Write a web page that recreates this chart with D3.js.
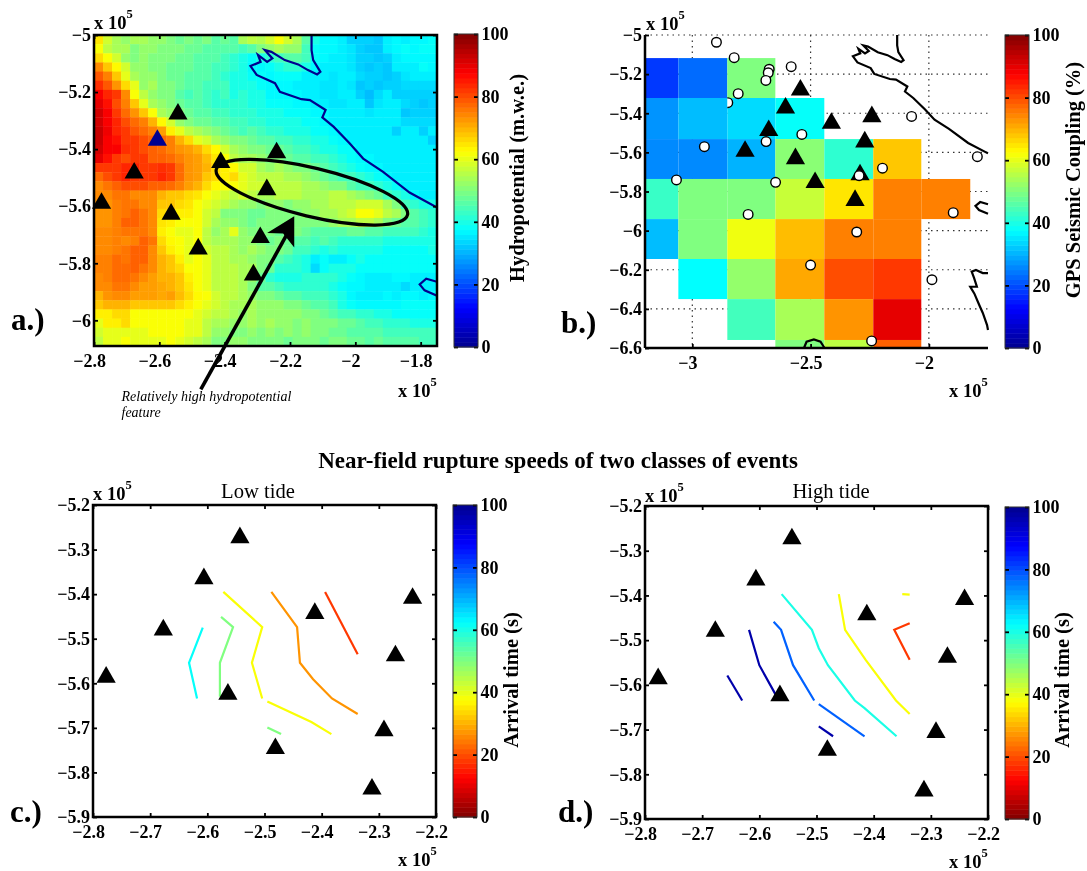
<!DOCTYPE html>
<html>
<head>
<meta charset="utf-8">
<script src="https://cdn.jsdelivr.net/npm/d3@7"></script>
<style>
  body { margin: 0; background: #fff; }
  text { font-family: "Liberation Serif", serif; fill: #000; }
  .tick line { stroke: #000; stroke-width: 1.8; }
  .tick text { font-size: 18px; font-weight: bold; }
</style>
</head>
<body>
<div id="chart"></div>
<script>
// stations, x and y in units of 10^5
const stationX = [-2.777, -2.677, -2.606, -2.543, -2.564, -2.481, -2.412, -2.312, -2.291, -2.271, -2.241];
const stationY = [-5.58, -5.474, -5.359, -5.267, -5.618, -5.74, -5.437, -5.831, -5.7, -5.532, -5.403];

// hydropotential grid, top row first
const hydroRows = [
  [65,58,54,52,54,54,52,52,50,48,50,48,50,46,48,46,54,56,55,58,62,58,54,46,40,37,37,36,33,33,33,32,36,37,36,37,37,38],
  [62,56,54,54,50,52,52,50,50,50,48,48,46,46,46,46,44,46,50,52,54,52,52,44,38,37,37,36,35,33,32,32,36,37,38,37,38,38],
  [66,62,58,52,50,52,50,50,50,48,48,46,46,46,44,42,40,38,40,42,44,46,46,44,38,37,36,36,35,33,33,32,33,36,37,37,37,37],
  [74,68,63,58,52,52,50,50,48,48,48,46,46,44,44,42,40,37,37,38,40,42,42,40,37,36,36,36,35,33,32,33,32,36,36,36,38,37],
  [79,75,68,60,54,52,52,50,48,48,46,46,46,44,42,40,40,38,38,37,38,38,38,36,36,36,35,36,36,34,33,33,32,33,35,36,36,36],
  [83,79,73,66,60,52,54,50,50,48,46,46,44,44,44,40,40,40,38,37,37,37,36,36,36,35,35,36,35,32,33,32,33,33,34,34,34,34],
  [88,84,82,74,62,56,52,50,50,46,44,46,44,42,44,40,42,40,40,37,37,37,37,36,36,35,35,36,36,33,31,34,36,33,33,33,33,33],
  [90,86,80,75,68,60,54,52,50,48,46,46,44,42,42,42,42,40,40,38,38,38,37,37,36,36,35,35,36,36,32,35,36,36,34,33,32,33],
  [92,88,82,77,73,68,62,54,52,50,48,46,46,44,44,42,42,42,40,40,40,38,38,38,37,37,36,36,36,36,35,36,36,36,32,33,33,33],
  [92,88,84,80,77,75,70,63,58,52,50,48,48,46,46,44,44,42,42,40,40,40,40,38,38,37,36,36,36,36,36,36,36,36,34,34,34,34],
  [93,89,84,82,79,77,75,72,64,60,56,54,52,50,48,46,44,46,44,42,42,40,40,40,38,38,37,36,36,36,36,36,36,33,36,36,33,36],
  [93,88,86,82,82,80,78,77,75,70,66,60,58,54,52,50,50,48,46,46,44,44,42,42,40,40,38,37,36,36,36,36,36,36,36,36,36,33],
  [92,88,88,83,82,80,78,77,75,73,72,70,66,63,58,54,52,50,50,48,48,46,44,44,42,40,40,38,38,36,36,36,36,36,36,36,36,36],
  [90,86,82,80,82,82,78,78,77,75,73,72,69,65,62,56,54,54,52,50,50,48,46,46,44,44,42,40,38,37,37,36,36,36,36,36,36,36],
  [82,82,82,84,84,82,82,83,82,77,73,72,70,66,64,63,58,58,54,52,54,52,50,50,48,46,44,42,40,38,37,37,36,36,36,36,36,36],
  [77,80,82,84,82,82,82,84,82,77,73,72,68,66,64,66,60,58,56,56,56,54,54,52,50,48,46,44,44,42,40,38,37,36,36,36,36,36],
  [74,76,78,80,80,80,78,78,77,75,72,70,66,63,62,62,60,58,58,56,56,56,56,54,54,52,50,50,46,44,44,42,40,38,36,36,36,36],
  [74,74,76,76,74,74,74,70,68,68,66,65,62,60,58,56,58,56,54,54,56,56,56,54,54,54,56,56,54,52,50,48,44,42,40,37,36,36],
  [73,73,75,76,76,74,74,68,68,66,65,62,60,58,56,54,52,52,50,52,52,50,52,52,54,54,56,56,56,58,58,58,54,50,44,42,40,40],
  [73,73,75,76,78,76,74,66,66,64,64,62,58,56,50,50,50,48,48,50,50,50,50,52,52,54,54,56,58,62,62,60,56,54,50,46,44,42],
  [73,73,75,78,78,76,74,65,64,62,62,62,58,54,52,52,50,48,50,50,50,50,50,50,50,50,52,54,54,56,56,54,50,48,46,46,44,42],
  [74,74,75,76,76,76,74,64,62,60,60,62,56,52,54,60,52,50,50,50,48,50,50,48,46,46,46,46,48,48,46,46,44,44,44,44,42,40],
  [74,74,75,74,75,78,76,66,63,62,60,62,56,54,54,54,52,52,50,48,50,48,46,46,44,46,44,42,42,42,42,42,40,40,40,40,40,40],
  [74,74,75,76,78,78,74,68,64,62,60,62,58,56,56,54,52,54,52,50,50,48,44,44,42,40,42,40,40,40,40,40,38,38,38,38,38,40],
  [75,75,77,76,78,78,74,70,68,64,60,62,60,56,56,54,54,52,50,50,46,44,42,40,36,38,36,36,38,40,38,38,38,38,38,38,38,38],
  [75,75,77,77,78,76,74,70,68,66,62,62,60,56,56,56,54,54,50,48,42,42,42,40,34,38,40,40,40,38,38,38,38,38,38,38,38,38],
  [74,75,77,77,76,74,72,70,70,68,64,62,60,56,56,56,54,52,48,42,40,40,40,42,42,42,42,40,38,37,36,36,36,37,37,36,36,36],
  [74,74,76,76,74,72,72,71,70,68,65,62,60,56,56,56,54,50,46,46,44,42,42,42,42,42,40,38,37,37,36,36,36,36,34,36,36,36],
  [70,73,74,74,72,72,72,71,72,69,66,63,62,58,56,56,54,52,50,50,48,46,46,44,44,44,42,40,37,36,36,36,37,36,37,37,36,37],
  [68,70,70,70,68,68,68,68,68,66,64,62,60,58,56,54,54,54,52,52,52,50,50,48,46,46,44,40,38,37,37,37,37,37,38,38,38,38],
  [64,64,66,66,62,62,62,62,62,62,62,60,58,56,56,54,52,54,52,52,52,52,52,50,50,48,46,44,44,42,42,40,40,38,38,38,38,38],
  [60,64,64,66,62,62,62,62,62,62,60,60,56,54,54,52,52,54,52,54,52,52,50,52,50,50,50,48,48,46,44,44,42,42,42,40,40,40],
  [58,60,60,60,60,60,62,62,62,62,60,60,56,52,52,50,50,52,50,52,50,52,50,52,50,50,48,48,46,46,46,46,44,44,44,44,44,44],
  [56,60,60,62,60,60,60,60,62,60,58,56,54,50,50,52,52,50,50,50,50,48,50,50,50,48,50,50,48,48,46,48,46,46,46,46,44,44]
];

// GPS coupling blocks
const couplingXEdges = [-3.2, -3.059, -2.852, -2.649, -2.442, -2.235, -2.032, -1.825];
const couplingYEdges = [-5.118, -5.322, -5.532, -5.736, -5.941, -6.145, -6.35, -6.559, -6.6];
const couplingRows = [
  [18, 23, 50, null, null, null, null],
  [27, 31, 34, 38, null, null, null],
  [26, 26, 30, 51, 42, 68, null],
  [43, 50, 50, 57, 65, 75, 75],
  [31, 50, 61, 69, 75, 75, null],
  [null, 37.5, 52, 71, 80, 82, null],
  [null, null, 44, 54, 73, 90, null],
  [null, null, null, 50, 56, 78, null]
];

const gpsX = [-2.898, -2.823, -2.675, -2.679, -2.689, -2.582, -2.806, -2.949, -2.688, -2.537, -3.067, -2.648, -2.764, -2.295, -2.196, -2.305, -2.5, -2.242, -1.897, -1.987, -2.073, -1.795];
const gpsY = [-5.037, -5.116, -5.175, -5.193, -5.232, -5.162, -5.3, -5.571, -5.545, -5.508, -5.741, -5.753, -5.917, -5.719, -5.681, -6.007, -6.176, -6.564, -5.908, -6.251, -5.416, -5.622];
// this one sits half under the blue block
const gpsCutX = -2.85, gpsCutY = -5.346;

// coastlines [x, y]
const coastMain = [[-2.134,-5.0],[-2.134,-5.053],[-2.129,-5.088],[-2.107,-5.129],[-2.117,-5.138],[-2.145,-5.123],[-2.175,-5.103],[-2.216,-5.088],[-2.257,-5.059],[-2.277,-5.053],[-2.254,-5.082],[-2.27,-5.094],[-2.298,-5.07],[-2.29,-5.094],[-2.321,-5.109],[-2.302,-5.14],[-2.246,-5.169],[-2.231,-5.199],[-2.165,-5.225],[-2.139,-5.228],[-2.091,-5.263],[-2.101,-5.289],[-2.066,-5.322],[-2.017,-5.38],[-1.976,-5.433],[-1.915,-5.48],[-1.834,-5.552],[-1.75,-5.605]];
const coastHook = [[-1.75,-5.865],[-1.783,-5.854],[-1.803,-5.874],[-1.788,-5.895],[-1.75,-5.914]];
const coastSouth = [[-1.75,-6.217],[-1.772,-6.217],[-1.801,-6.201],[-1.819,-6.21],[-1.809,-6.242],[-1.797,-6.287],[-1.825,-6.287],[-1.808,-6.321],[-1.787,-6.38],[-1.772,-6.421],[-1.754,-6.483],[-1.75,-6.508]];
const coastArc = [[-2.528,-6.6],[-2.517,-6.568],[-2.486,-6.556],[-2.458,-6.568],[-2.441,-6.6]];

// rupture front contours
const lowTide = [
  {level: 62, pts: [[-2.608,-5.475],[-2.632,-5.554],[-2.618,-5.634]]},
  {level: 50, pts: [[-2.576,-5.451],[-2.555,-5.474],[-2.578,-5.554],[-2.578,-5.63]]},
  {level: 50, pts: [[-2.495,-5.699],[-2.471,-5.714]]},
  {level: 38, pts: [[-2.572,-5.395],[-2.504,-5.474],[-2.522,-5.554],[-2.504,-5.634]]},
  {level: 38, pts: [[-2.495,-5.641],[-2.418,-5.687],[-2.383,-5.714]]},
  {level: 27, pts: [[-2.488,-5.395],[-2.443,-5.474],[-2.438,-5.554],[-2.415,-5.591],[-2.382,-5.634],[-2.337,-5.669]]},
  {level: 18, pts: [[-2.394,-5.395],[-2.337,-5.535]]}
];
const highTide = [
  {level: 97, pts: [[-2.618,-5.477],[-2.6,-5.556],[-2.571,-5.623]]},
  {level: 97, pts: [[-2.656,-5.579],[-2.63,-5.635]]},
  {level: 97, pts: [[-2.496,-5.693],[-2.471,-5.715]]},
  {level: 78, pts: [[-2.575,-5.459],[-2.562,-5.477],[-2.541,-5.556],[-2.504,-5.635]]},
  {level: 78, pts: [[-2.496,-5.643],[-2.416,-5.715]]},
  {level: 60, pts: [[-2.561,-5.397],[-2.508,-5.477],[-2.496,-5.518],[-2.48,-5.556],[-2.433,-5.635],[-2.416,-5.652],[-2.36,-5.715]]},
  {level: 38, pts: [[-2.461,-5.397],[-2.45,-5.477],[-2.414,-5.544],[-2.361,-5.635],[-2.337,-5.665]]},
  {level: 38, pts: [[-2.35,-5.397],[-2.337,-5.398]]},
  {level: 18, pts: [[-2.337,-5.462],[-2.364,-5.477],[-2.337,-5.544]]}
];

const hydroXTicks = [-2.8, -2.6, -2.4, -2.2, -2, -1.8];
const hydroYTicks = [-5, -5.2, -5.4, -5.6, -5.8, -6];
const couplingXTicks = [-3, -2.5, -2];
const couplingYTicks = [-5, -5.2, -5.4, -5.6, -5.8, -6, -6.2, -6.4, -6.6];
const tideXTicks = [-2.8, -2.7, -2.6, -2.5, -2.4, -2.3, -2.2];
const tideYTicks = [-5.2, -5.3, -5.4, -5.5, -5.6, -5.7, -5.8, -5.9];
const colorTicks = [0, 20, 40, 60, 80, 100];

const width = 1087;
const height = 871;

const jet = d3.scaleLinear()
  .domain([0, 12.5, 37.5, 62.5, 87.5, 100])
  .range(['#00008f', '#0000ff', '#00ffff', '#ffff00', '#ff0000', '#800000']);
const jetReversed = v => jet(100 - v);

const svg = d3.select('#chart')
  .append('svg')
  .attr('width', width)
  .attr('height', height)
  .style('display', 'block')
  .style('filter', 'blur(0.4px)');

const lineOf = (x, y) => d3.line().x(d => x(d[0])).y(d => y(d[1]));

const makeScales = (box, xDomain, yDomain) => ({
  x: d3.scaleLinear().domain(xDomain).range([box.left, box.right]),
  y: d3.scaleLinear().domain(yDomain).range([box.top, box.bottom])
});

const drawAxes = (box, s, xTicks, yTicks, boxed) => {
  const num = d3.format('');
  const bottom = svg.append('g')
    .attr('transform', `translate(0,${box.bottom})`)
    .call(d3.axisBottom(s.x).tickValues(xTicks).tickSize(-4).tickPadding(8).tickFormat(num));
  bottom.selectAll('.tick text').attr('dx', -5);
  const left = svg.append('g')
    .attr('transform', `translate(${box.left},0)`)
    .call(d3.axisLeft(s.y).tickValues(yTicks).tickSize(-4).tickPadding(3).tickFormat(num));
  left.selectAll('.domain').remove();
  bottom.selectAll('.domain').remove();

  if (boxed) {
    svg.append('g').attr('transform', `translate(0,${box.top})`)
      .call(d3.axisTop(s.x).tickValues(xTicks).tickSize(-4).tickFormat(''))
      .select('.domain').remove();
    svg.append('g').attr('transform', `translate(${box.right},0)`)
      .call(d3.axisRight(s.y).tickValues(yTicks).tickSize(-4).tickFormat(''))
      .select('.domain').remove();
    svg.append('rect')
      .attr('x', box.left).attr('y', box.top)
      .attr('width', box.right - box.left).attr('height', box.bottom - box.top)
      .attr('fill', 'none').attr('stroke', '#000').attr('stroke-width', 2.5);
  } else {
    svg.append('line').attr('x1', box.left).attr('x2', box.left).attr('y1', box.top).attr('y2', box.bottom)
      .attr('stroke', '#000').attr('stroke-width', 2.5);
    svg.append('line').attr('x1', box.left).attr('x2', box.right).attr('y1', box.bottom).attr('y2', box.bottom)
      .attr('stroke', '#000').attr('stroke-width', 2.5);
  }
};

// "x 10^5" note, used at both ends of every panel
const expNote = (x, y) => {
  const t = svg.append('text').attr('x', x).attr('y', y).attr('font-size', 18.5).attr('font-weight', 'bold');
  t.append('tspan').text('x 10');
  t.append('tspan').attr('dy', -11).attr('font-size', 12.5).text('5');
};

const drawStations = (s, blueIndex) => {
  const tri = d3.symbol(d3.symbolTriangle).size(160);
  svg.append('g').selectAll('path')
    .data(stationX)
    .enter().append('path')
    .attr('d', tri)
    .attr('fill', (d, i) => i === blueIndex ? '#000090' : '#000')
    .attr('transform', (d, i) => `translate(${s.x(d)},${s.y(stationY[i]) + 2.8})`);
};

const drawColorbar = (left, top, bottom, flip, label, labelX, labelY) => {
  const barWidth = 24;
  const y = d3.scaleLinear().domain([0, 100]).range([bottom, top]);
  const steps = d3.range(64);
  const color = flip ? jetReversed : jet;
  svg.append('g').selectAll('rect')
    .data(steps)
    .enter().append('rect')
    .attr('x', left)
    .attr('width', barWidth)
    .attr('y', d => y((d + 1) * 100 / 64))
    .attr('height', (bottom - top) / 64 + 0.5)
    .attr('fill', d => color((d + 0.5) * 100 / 64));
  const ax = svg.append('g').attr('transform', `translate(${left + barWidth},0)`)
    .call(d3.axisRight(y).tickValues(colorTicks).tickSize(-4).tickPadding(3.5));
  ax.selectAll('.domain').remove();
  ax.selectAll('.tick line').attr('stroke-width', 1);
  svg.append('g').attr('transform', `translate(${left},0)`)
    .call(d3.axisLeft(y).tickValues(colorTicks).tickSize(-4).tickFormat(''))
    .call(g => g.select('.domain').remove())
    .selectAll('.tick line').attr('stroke-width', 1);
  svg.append('rect').attr('x', left).attr('y', top).attr('width', barWidth).attr('height', bottom - top)
    .attr('fill', 'none').attr('stroke', '#333').attr('stroke-width', 1);
  svg.append('text')
    .attr('transform', `translate(${labelX},${labelY}) rotate(-90)`)
    .attr('text-anchor', 'middle')
    .attr('font-size', 20.5).attr('font-weight', 'bold')
    .text(label);
};

const panelLabel = (txt, x, y) => svg.append('text').attr('x', x).attr('y', y)
  .attr('font-size', 31).attr('font-weight', 'bold').text(txt);

// Panel a
const boxA = {left: 94, right: 437, top: 35, bottom: 346};
const a = makeScales(boxA, [-2.8, -1.75], [-5, -6.09]);
const colBand = d3.scaleBand().domain(d3.range(hydroRows[0].length)).range([boxA.left, boxA.right]);
const rowBand = d3.scaleBand().domain(d3.range(hydroRows.length)).range([boxA.top, boxA.bottom]);

svg.append('g').selectAll('g')
  .data(hydroRows)
  .enter().append('g')
  .attr('transform', (d, i) => `translate(0,${rowBand(i)})`)
  .selectAll('rect')
  .data(d => d)
  .enter().append('rect')
  .attr('x', (d, i) => colBand(i))
  .attr('width', colBand.bandwidth() + 0.4)
  .attr('height', rowBand.bandwidth() + 0.4)
  .attr('fill', d => jet(d));

svg.append('defs').append('clipPath').attr('id', 'clipA').append('rect')
  .attr('x', boxA.left).attr('y', boxA.top)
  .attr('width', boxA.right - boxA.left).attr('height', boxA.bottom - boxA.top);

[coastMain, coastHook].forEach(c => svg.append('path')
  .attr('d', lineOf(a.x, a.y)(c))
  .attr('clip-path', 'url(#clipA)')
  .attr('fill', 'none').attr('stroke', '#00008f').attr('stroke-width', 2.2));

drawStations(a, 2);

// high hydropotential ellipse
const ellipseX = -2.133, ellipseY = -5.551;
svg.append('ellipse')
  .attr('transform', `translate(${a.x(ellipseX)},${a.y(ellipseY)}) rotate(13.4)`)
  .attr('rx', 98.3).attr('ry', 24.3)
  .attr('fill', 'none').attr('stroke', '#000').attr('stroke-width', 3.2);

drawAxes(boxA, a, hydroXTicks, hydroYTicks, true);

// arrow to the feature, runs out of the axes
const arrowTail = [-2.473, -6.242], arrowTip = [-2.187, -5.635];
const arrowBarbs = [[-2.27, -5.694], [-2.221, -5.696], [-2.187, -5.745]];
svg.append('path').attr('d', lineOf(a.x, a.y)([arrowTail, [-2.21, -5.7]]))
  .attr('stroke', '#000').attr('stroke-width', 3.6).attr('fill', 'none');
svg.append('path').attr('d', lineOf(a.x, a.y)([arrowTip, ...arrowBarbs]) + 'Z').attr('fill', '#000');

const note = svg.append('text').attr('font-size', 14).attr('font-style', 'italic').attr('fill', '#111');
note.append('tspan').attr('x', 121.5).attr('y', 401).text('Relatively high hydropotential');
note.append('tspan').attr('x', 121.5).attr('y', 417).text('feature');

expNote(94, 29);
expNote(398, 397);
drawColorbar(454, 34, 347, false, 'Hydropotential (m.w.e.)', 524, 178);
panelLabel('a.)', 11, 330);

// Panel b
const boxB = {left: 645, right: 988, top: 35, bottom: 348};
const b = makeScales(boxB, [-3.2, -1.75], [-5, -6.6]);

const grid = svg.append('g').attr('stroke', '#333').attr('stroke-width', 1.2).attr('stroke-dasharray', '1.5 4');
grid.selectAll('.gh').data(couplingYTicks).enter().append('line').attr('class', 'gh')
  .attr('x1', boxB.left).attr('x2', boxB.right).attr('y1', d => b.y(d)).attr('y2', d => b.y(d));
grid.selectAll('.gv').data(couplingXTicks).enter().append('line').attr('class', 'gv')
  .attr('x1', d => b.x(d)).attr('x2', d => b.x(d)).attr('y1', boxB.top).attr('y2', boxB.bottom);

const cells = [];
couplingRows.forEach((row, r) => row.forEach((v, c) => {
  if (v !== null) cells.push({r, c, v});
}));

svg.append('g').selectAll('rect')
  .data(cells)
  .enter().append('rect')
  .attr('x', d => b.x(couplingXEdges[d.c]))
  .attr('y', d => b.y(couplingYEdges[d.r]))
  .attr('width', d => b.x(couplingXEdges[d.c + 1]) - b.x(couplingXEdges[d.c]))
  .attr('height', d => b.y(couplingYEdges[d.r + 1]) - b.y(couplingYEdges[d.r]))
  .attr('fill', d => jet(d.v));

// only the part right of the block edge shows
svg.append('defs').append('clipPath').attr('id', 'clipCut').append('rect')
  .attr('x', b.x(couplingXEdges[2])).attr('y', boxB.top)
  .attr('width', boxB.right - b.x(couplingXEdges[2])).attr('height', boxB.bottom - boxB.top);

svg.append('circle').attr('cx', b.x(gpsCutX)).attr('cy', b.y(gpsCutY)).attr('r', 4.8)
  .attr('clip-path', 'url(#clipCut)')
  .attr('fill', '#fff').attr('stroke', '#000').attr('stroke-width', 1.4);

[coastMain, coastHook, coastSouth, coastArc].forEach(c => svg.append('path')
  .attr('d', lineOf(b.x, b.y)(c))
  .attr('fill', 'none').attr('stroke', '#000').attr('stroke-width', 2.2));

drawStations(b, -1);

svg.append('g').selectAll('circle')
  .data(gpsX)
  .enter().append('circle')
  .attr('cx', d => b.x(d))
  .attr('cy', (d, i) => b.y(gpsY[i]))
  .attr('r', 4.8)
  .attr('fill', '#fff').attr('stroke', '#000').attr('stroke-width', 1.4);

drawAxes(boxB, b, couplingXTicks, couplingYTicks, false);
expNote(646, 30);
expNote(949, 397);
drawColorbar(1005, 35, 348, false, 'GPS Seismic Coupling (%)', 1080, 180);
panelLabel('b.)', 561, 333);

// Title
svg.append('text').attr('x', 558).attr('y', 468).attr('text-anchor', 'middle')
  .attr('font-size', 23).attr('font-weight', 'bold')
  .text('Near-field rupture speeds of two classes of events');

// Panels c and d
const drawTide = (box, fronts, opts) => {
  const s = makeScales(box, [-2.8, -2.2], [-5.2, -5.9]);
  svg.append('g').selectAll('path')
    .data(fronts)
    .enter().append('path')
    .attr('d', d => lineOf(s.x, s.y)(d.pts))
    .attr('fill', 'none')
    .attr('stroke', d => jetReversed(d.level))
    .attr('stroke-width', 2.2);
  drawStations(s, -1);
  drawAxes(box, s, tideXTicks, tideYTicks, true);
  svg.append('text').attr('x', opts.titleX).attr('y', 498).attr('text-anchor', 'middle')
    .attr('font-size', 20.6).attr('fill', '#222').text(opts.title);
  expNote(box.left, opts.expTop);
  expNote(opts.expX, opts.expY);
  drawColorbar(opts.barLeft, opts.barTop, opts.barBottom, true, 'Arrival time (s)', opts.labelX, 680);
  panelLabel(opts.letter, opts.letterX, 822);
};

drawTide({left: 93, right: 436, top: 505, bottom: 817}, lowTide, {
  title: 'Low tide', titleX: 258, expTop: 500, expX: 398, expY: 866,
  barLeft: 453, barTop: 505, barBottom: 817, labelX: 518, letter: 'c.)', letterX: 10
});
drawTide({left: 645, right: 988, top: 506, bottom: 819}, highTide, {
  title: 'High tide', titleX: 831, expTop: 501.5, expX: 949, expY: 868,
  barLeft: 1005, barTop: 507, barBottom: 819, labelX: 1069, letter: 'd.)', letterX: 558
});
</script>
</body>
</html>
